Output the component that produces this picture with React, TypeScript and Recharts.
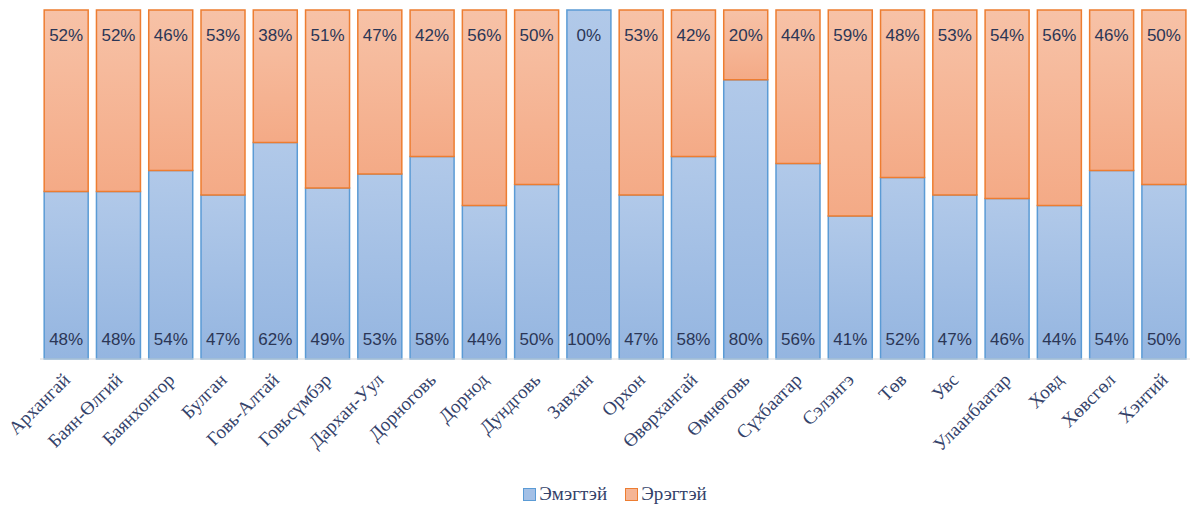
import { BarChart, Bar, XAxis, YAxis, Legend, LabelList } from "recharts";

const aimags = [
  "Архангай", "Баян-Өлгий", "Баянхонгор", "Булган", "Говь-Алтай", "Говьсүмбэр",
  "Дархан-Уул", "Дорноговь", "Дорнод", "Дундговь", "Завхан", "Орхон",
  "Өвөрхангай", "Өмнөговь", "Сүхбаатар", "Сэлэнгэ", "Төв", "Увс",
  "Улаанбаатар", "Ховд", "Хөвсгөл", "Хэнтий",
];
const female = [48, 48, 54, 47, 62, 49, 53, 58, 44, 50, 100, 47, 58, 80, 56, 41, 52, 47, 46, 44, 54, 50];
const male = [52, 52, 46, 53, 38, 51, 47, 42, 56, 50, 0, 53, 42, 20, 44, 59, 48, 53, 54, 56, 46, 50];

const data = aimags.map((name, i) => ({ name, female: female[i], male: male[i] }));

const labelColor = "#2b3656";
const axisTextColor = "#34426a";
const pctFont = "'Liberation Sans', sans-serif";
const serif = "'Liberation Serif', serif";

function AimagTick(props: any) {
  const { x, y, payload } = props;
  const tx = x + 5;
  const ty = y + 14;
  return (
    <text
      x={tx}
      y={ty}
      transform={`rotate(-45, ${tx}, ${ty})`}
      textAnchor="end"
      fontFamily={serif}
      fontSize={19}
      fill={axisTextColor}
    >
      {payload.value}
    </text>
  );
}

function femaleLabel(props: any) {
  const { x, y, width, height, value, index } = props;
  const cx = x + width / 2;
  return (
    <g key={index}>
      <text x={cx} y={y + height - 20} dy={6} textAnchor="middle" fontFamily={pctFont} fontSize={17} fill={labelColor}>
        {value}%
      </text>
      {/* zero-height male segment gets no label of its own */}
      {male[index] === 0 && (
        <text x={cx} y={y + 25} dy={6} textAnchor="middle" fontFamily={pctFont} fontSize={17} fill={labelColor}>
          0%
        </text>
      )}
    </g>
  );
}

function maleLabel(props: any) {
  const { x, y, width, value, index } = props;
  if (!value) return null;
  return (
    <text key={index} x={x + width / 2} y={y + 25} dy={6} textAnchor="middle" fontFamily={pctFont} fontSize={17} fill={labelColor}>
      {value}%
    </text>
  );
}

const legendItems = [
  { name: "Эмэгтэй", fill: "#a3c0e6", stroke: "#5b9bd5" },
  { name: "Эрэгтэй", fill: "#f5b595", stroke: "#ed7d31" },
];

function LegendBox() {
  return (
    <div style={{ display: "flex", justifyContent: "center", gap: 18, fontFamily: serif, fontSize: 19, color: axisTextColor }}>
      {legendItems.map((it) => (
        <div key={it.name} style={{ display: "flex", alignItems: "center", gap: 3 }}>
          <span style={{ width: 11, height: 11, background: it.fill, border: `1px solid ${it.stroke}`, display: "inline-block" }} />
          <span>{it.name}</span>
        </div>
      ))}
    </div>
  );
}

export default function App() {
  return (
    <div style={{ position: "absolute", left: 0, top: 0, background: "#fff" }}>
      <BarChart
        width={1194}
        height={513}
        data={data}
        margin={{ top: 10, right: 4, bottom: 0, left: 40 }}
        barCategoryGap="8%"
      >
        <defs>
          <linearGradient id="gBlue" x1="0" y1="0" x2="0" y2="1">
            <stop offset="0%" stopColor="#b1c9e9" />
            <stop offset="100%" stopColor="#94b5e0" />
          </linearGradient>
          <linearGradient id="gOrange" x1="0" y1="0" x2="0" y2="1">
            <stop offset="0%" stopColor="#f7c2a7" />
            <stop offset="100%" stopColor="#f4aa86" />
          </linearGradient>
        </defs>
        <XAxis
          dataKey="name"
          interval={0}
          tick={<AimagTick />}
          tickLine={false}
          axisLine={{ stroke: "#d9d9d9" }}
          height={124}
        />
        <YAxis hide domain={[0, 100]} />
        <Legend
          verticalAlign="bottom"
          content={<LegendBox />}
          wrapperStyle={{ paddingBottom: 8 }}
        />
        <Bar
          dataKey="female"
          name="Эмэгтэй"
          stackId="a"
          fill="url(#gBlue)"
          stroke="#5b9bd5"
          strokeWidth={1.5}
          isAnimationActive={false}
        >
          <LabelList dataKey="female" content={femaleLabel} />
        </Bar>
        <Bar
          dataKey="male"
          name="Эрэгтэй"
          stackId="a"
          fill="url(#gOrange)"
          stroke="#ed7d31"
          strokeWidth={1.5}
          isAnimationActive={false}
        >
          <LabelList dataKey="male" content={maleLabel} />
        </Bar>
      </BarChart>
    </div>
  );
}
